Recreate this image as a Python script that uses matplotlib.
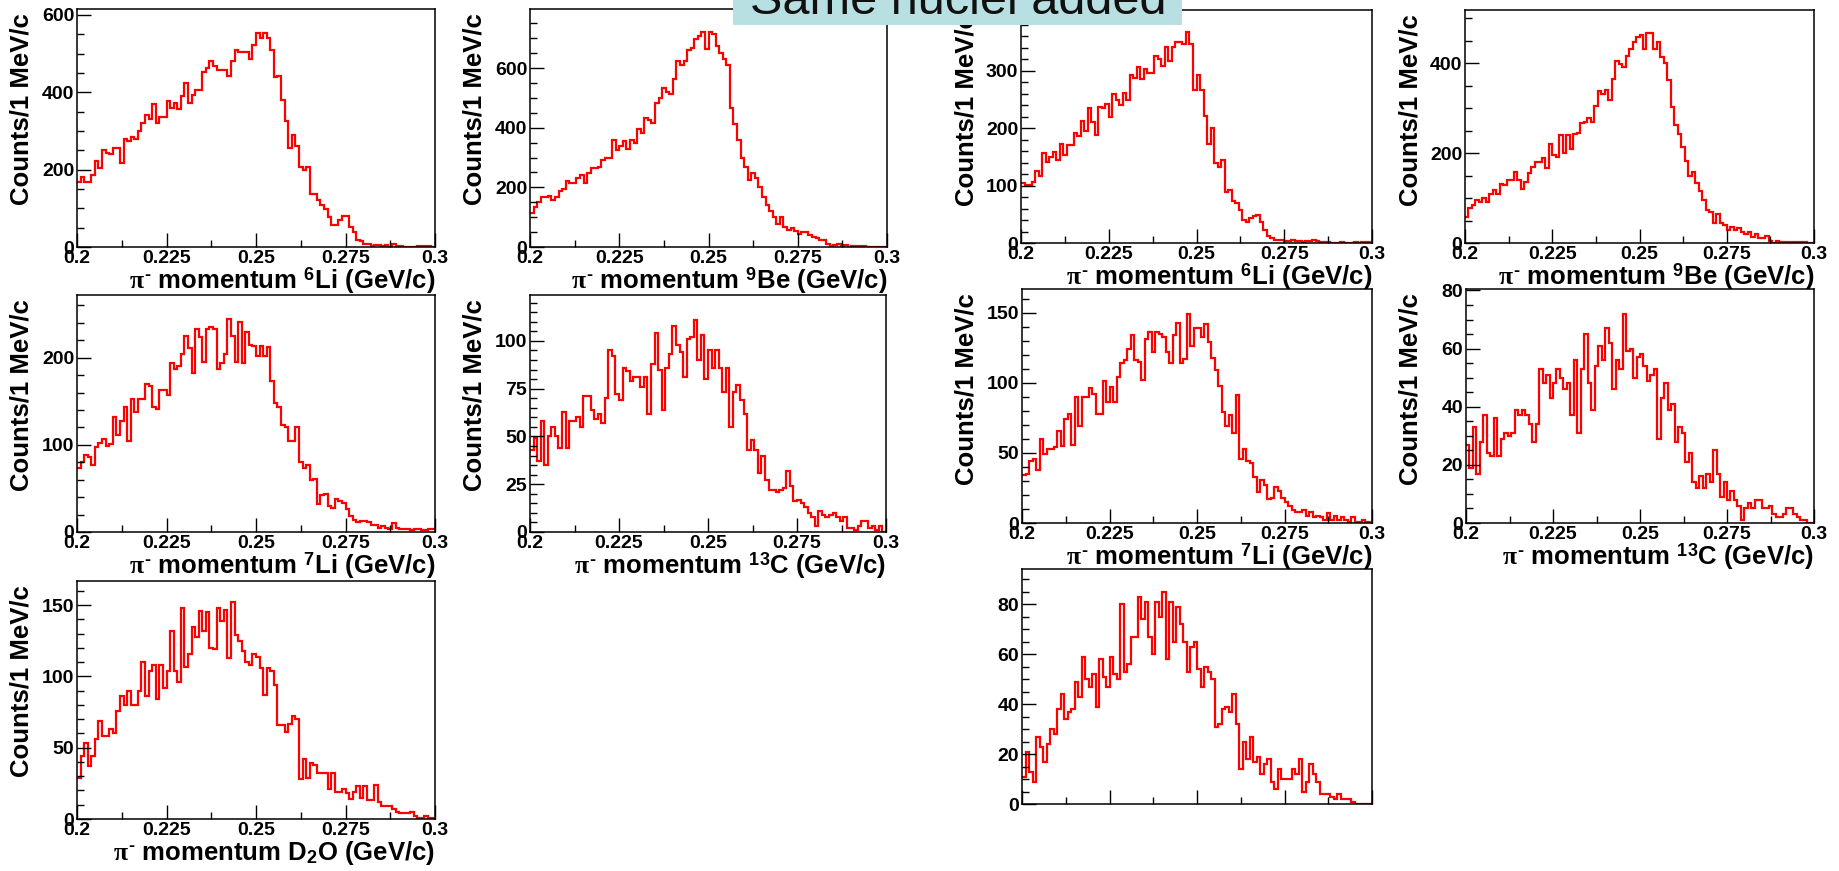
import numpy as np
import matplotlib
matplotlib.use("Agg")
import matplotlib.pyplot as plt
from matplotlib.patches import Rectangle
from matplotlib.ticker import MultipleLocator, FixedLocator, FixedFormatter

# counts per 1 MeV/c bin, 0.2 - 0.3 GeV/c
li6_a = [168, 181, 168, 168, 187, 223, 203, 250, 242, 240, 256, 256, 218, 280, 275, 285, 279, 300, 321, 340,
         332, 369, 321, 337, 337, 377, 360, 373, 356, 391, 425, 373, 392, 406, 406, 453, 462, 481, 468, 458,
         458, 458, 443, 481, 509, 505, 505, 505, 485, 522, 554, 540, 554, 540, 508, 440, 443, 380, 326, 255,
         289, 262, 207, 200, 207, 138, 138, 121, 108, 99, 78, 56, 56, 69, 79, 79, 52, 39, 17, 16,
         7, 9, 2, 4, 4, 2, 4, 0, 7, 3, 3, 0, 0, 0, 0, 3, 3, 3, 3, 0]
be9_a = [115, 135, 151, 168, 166, 170, 157, 168, 187, 193, 222, 213, 213, 230, 241, 213, 247, 266, 264, 269,
         292, 297, 297, 359, 325, 339, 357, 327, 359, 350, 395, 381, 432, 426, 415, 482, 499, 533, 521, 514,
         564, 622, 611, 622, 662, 667, 698, 709, 720, 665, 720, 714, 673, 652, 631, 611, 465, 413, 359, 297,
         269, 224, 249, 230, 202, 168, 142, 121, 101, 78, 99, 67, 58, 64, 54, 45, 50, 50, 39, 34,
         31, 25, 22, 11, 2, 6, 11, 2, 6, 0, 3, 3, 3, 3, 0, 0, 0, 0, 0, 0]
li6_b = [104, 101, 101, 107, 126, 116, 157, 141, 150, 158, 145, 173, 154, 170, 170, 191, 186, 212, 196, 235,
         211, 188, 237, 236, 243, 220, 259, 249, 240, 262, 250, 292, 287, 307, 285, 303, 296, 296, 326, 320,
         309, 342, 318, 341, 351, 351, 347, 367, 347, 267, 292, 267, 221, 173, 200, 139, 133, 144, 89, 92,
         74, 70, 57, 40, 37, 43, 47, 49, 37, 23, 12, 9, 6, 5, 6, 3, 3, 6, 3, 3,
         2, 3, 3, 6, 3, 2, 2, 2, 0, 0, 0, 2, 0, 0, 0, 2, 0, 2, 2, 2]
be9_b = [58, 77, 84, 95, 91, 101, 91, 110, 117, 109, 132, 129, 140, 140, 158, 140, 121, 136, 156, 170,
         179, 179, 188, 167, 219, 196, 192, 240, 199, 239, 210, 242, 244, 266, 270, 277, 270, 305, 339, 331,
         341, 318, 364, 405, 398, 392, 415, 431, 446, 459, 463, 431, 467, 467, 431, 446, 413, 400, 363, 302,
         262, 242, 214, 183, 149, 158, 134, 116, 95, 73, 69, 45, 65, 45, 39, 30, 36, 28, 33, 25,
         21, 25, 13, 21, 12, 12, 15, 4, 0, 4, 2, 2, 2, 2, 2, 2, 2, 2, 0, 0]
li7_a = [74, 80, 88, 86, 77, 97, 102, 107, 99, 101, 132, 111, 127, 144, 104, 153, 138, 153, 153, 170,
         167, 144, 141, 163, 163, 157, 194, 187, 191, 204, 225, 211, 183, 233, 224, 195, 233, 235, 233, 187,
         194, 204, 245, 225, 195, 241, 194, 229, 215, 213, 202, 214, 202, 212, 173, 148, 143, 123, 121, 104,
         104, 121, 80, 74, 77, 60, 61, 32, 42, 44, 30, 28, 38, 36, 33, 26, 18, 14, 12, 13,
         13, 11, 8, 8, 5, 7, 5, 3, 10, 5, 3, 3, 3, 2, 3, 3, 2, 2, 3, 3]
c13_a = [43, 49, 37, 58, 35, 50, 55, 50, 44, 63, 44, 58, 58, 60, 55, 71, 71, 64, 59, 62,
         57, 70, 95, 92, 72, 69, 86, 84, 79, 81, 81, 76, 81, 62, 88, 104, 85, 64, 86, 93,
         108, 98, 94, 81, 101, 102, 111, 90, 103, 80, 95, 86, 95, 86, 73, 86, 55, 73, 77, 69,
         62, 43, 48, 43, 31, 40, 27, 22, 22, 21, 22, 23, 32, 24, 16, 17, 15, 13, 10, 8,
         3, 11, 9, 8, 9, 10, 8, 6, 8, 2, 2, 1, 3, 6, 6, 2, 3, 1, 3, 0]
li7_b = [34, 35, 44, 46, 38, 60, 49, 53, 53, 54, 66, 55, 74, 78, 56, 90, 69, 90, 90, 96,
         92, 78, 78, 101, 86, 97, 86, 104, 114, 116, 124, 134, 116, 115, 102, 131, 136, 122, 136, 135,
         133, 122, 114, 134, 143, 114, 117, 149, 126, 139, 139, 133, 142, 129, 118, 109, 98, 79, 69, 77,
         64, 91, 46, 53, 44, 43, 33, 22, 31, 27, 17, 18, 26, 23, 18, 15, 12, 9, 8, 8,
         9, 5, 8, 4, 5, 4, 2, 7, 2, 5, 2, 4, 2, 1, 4, 1, 1, 2, 1, 1]
c13_b = [27, 19, 33, 17, 28, 37, 24, 23, 36, 23, 29, 31, 30, 31, 39, 37, 39, 37, 34, 28,
         34, 53, 48, 51, 43, 48, 53, 50, 46, 48, 37, 56, 31, 53, 65, 48, 39, 54, 61, 56,
         67, 62, 46, 56, 53, 72, 59, 60, 50, 57, 58, 54, 49, 51, 53, 29, 43, 48, 39, 41,
         28, 33, 31, 21, 24, 14, 12, 16, 12, 17, 14, 25, 17, 9, 14, 8, 11, 8, 6, 1,
         5, 7, 5, 8, 8, 5, 5, 6, 3, 2, 2, 3, 5, 5, 3, 2, 1, 1, 0, 0]
d2o = [29, 44, 53, 37, 44, 56, 69, 58, 58, 63, 60, 76, 86, 80, 90, 80, 80, 90, 110, 86,
       104, 108, 84, 108, 92, 104, 132, 104, 96, 148, 107, 116, 135, 128, 146, 132, 145, 120, 119, 148,
       139, 147, 113, 152, 129, 125, 118, 110, 108, 116, 114, 106, 87, 106, 104, 94, 66, 66, 61, 67,
       72, 70, 28, 42, 29, 39, 38, 32, 32, 32, 21, 32, 19, 19, 21, 18, 14, 19, 23, 15,
       23, 13, 13, 24, 12, 9, 9, 9, 7, 5, 4, 4, 4, 5, 2, 1, 1, 2, 1, 1]
added = [11, 21, 13, 9, 27, 23, 17, 24, 30, 28, 38, 44, 34, 37, 38, 49, 43, 59, 50, 47,
         52, 39, 58, 51, 47, 59, 52, 50, 80, 53, 56, 67, 67, 83, 74, 81, 67, 60, 81, 75,
         85, 58, 81, 65, 79, 72, 65, 53, 63, 65, 54, 47, 55, 53, 50, 31, 32, 38, 39, 37,
         44, 32, 14, 25, 18, 27, 17, 19, 12, 16, 18, 9, 6, 14, 10, 10, 10, 14, 12, 18,
         5, 9, 16, 12, 9, 4, 4, 4, 3, 2, 4, 2, 2, 2, 1, 0, 0, 0, 0, 0]

x_ticks = [0.2, 0.225, 0.25, 0.275, 0.3]
x_tick_labels = ["0.2", "0.225", "0.25", "0.275", "0.3"]
y_label = "Counts/1 MeV/c"
nuclei = ["$^{6}$Li", "$^{9}$Be", "$^{6}$Li", "$^{9}$Be",
          "$^{7}$Li", "$^{13}$C", "$^{7}$Li", "$^{13}$C", "D$_{2}$O", None]
title = "Same nuclei added"

plt.rcParams['font.family'] = ['Liberation Sans', 'DejaVu Sans']
plt.rcParams['font.weight'] = 'bold'
plt.rcParams['axes.labelweight'] = 'bold'
plt.rcParams['mathtext.fontset'] = 'custom'
plt.rcParams['mathtext.rm'] = 'Liberation Sans:bold'
plt.rcParams['mathtext.bf'] = 'Liberation Sans:bold'
plt.rcParams['mathtext.it'] = 'Liberation Serif'

W, H = 1839, 871
fig = plt.figure(figsize=(W / 100, H / 100), dpi=100)

# (data, pixel box x0, y0, x1, y1, ymax, major step, minor step)
panels = [
    (li6_a, (77, 9, 435, 247), 615, 200, 50),
    (be9_a, (530, 9, 887, 247), 798, 200, 50),
    (li6_b, (1021, 10, 1372, 243), 406, 100, 20),
    (be9_b, (1465, 10, 1814, 243), 518, 200, 50),
    (li7_a, (77, 295, 435, 532), 272, 100, 20),
    (c13_a, (530, 295, 886, 532), 124, 25, 5),
    (li7_b, (1022, 289, 1372, 523), 167, 50, 10),
    (c13_b, (1466, 289, 1814, 523), 80.5, 20, 5),
    (d2o, (77, 581, 435, 819), 167, 50, 10),
    (added, (1022, 569, 1372, 804), 94, 20, 5),
]

for (vals, box, ymax, major, minor), nuc in zip(panels, nuclei):
    x0, y0, x1, y1 = box
    ax = fig.add_axes([x0 / W, 1 - y1 / H, (x1 - x0) / W, (y1 - y0) / H])
    edges = np.linspace(0.2, 0.3, len(vals) + 1)
    ax.stairs(vals, edges, baseline=None, color='#ff0000', lw=1.6)
    ax.set_xlim(0.2, 0.3)
    ax.set_ylim(0, ymax)
    ax.xaxis.set_major_locator(FixedLocator(x_ticks))
    ax.xaxis.set_minor_locator(MultipleLocator(0.0125))
    ax.yaxis.set_major_locator(MultipleLocator(major))
    ax.yaxis.set_minor_locator(MultipleLocator(minor))
    ax.tick_params(which='major', direction='in', length=10, width=1, top=False, right=False,
                   labelsize=14, pad=2)
    ax.tick_params(which='minor', direction='in', length=5.3, width=1, top=False, right=False)
    for s in ax.spines.values():
        s.set_linewidth(1.1)
    if nuc is None:
        ax.xaxis.set_major_formatter(FixedFormatter([""] * len(x_ticks)))
        continue
    ax.xaxis.set_major_formatter(FixedFormatter(x_tick_labels))
    ax.set_xlabel(r"$\pi^{\text{-}}$ momentum " + nuc + " (GeV/c)", loc='right', fontsize=18.5)
    ax.xaxis.label.set_va('center')
    ax.xaxis.set_label_coords(1.0, -34 / (y1 - y0))
    ax.set_ylabel(y_label, loc='top', fontsize=18.5)
    ax.yaxis.label.set_va('center')
    ax.yaxis.set_label_coords(-55 / (x1 - x0), 1.0 - 4 / (y1 - y0))

# header box, cut off at the top edge of the slide
fig.add_artist(Rectangle((733 / W, 1 - 25 / H), (1182 - 733) / W, 25 / H + 0.01,
                         transform=fig.transFigure, facecolor='#b8e0e2', edgecolor='none', zorder=5))
fig.text(958 / W, 1 - 14 / H, title, ha='center', va='baseline', fontsize=35,
         fontweight='normal', color='#111111', zorder=6)

fig.savefig('out.png', dpi=100)
